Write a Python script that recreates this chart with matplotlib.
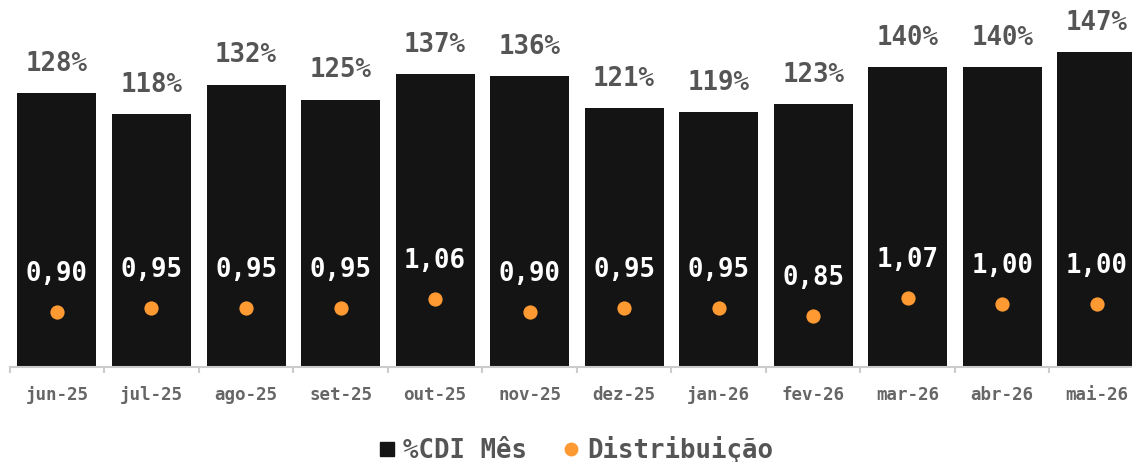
import matplotlib
matplotlib.use("Agg")
import matplotlib.pyplot as plt
from matplotlib.lines import Line2D
import numpy as np

categories = ["jun-25", "jul-25", "ago-25", "set-25", "out-25", "nov-25",
              "dez-25", "jan-26", "fev-26", "mar-26", "abr-26", "mai-26"]
cdi_pct = [128, 118, 132, 125, 137, 136, 121, 119, 123, 140, 140, 147]
distribuicao = [0.90, 0.95, 0.95, 0.95, 1.06, 0.90, 0.95, 0.95, 0.85, 1.07, 1.00, 1.00]

BAR = "#141414"
ORANGE = "#FF9A33"
GRAY_TXT = "#555555"
TICK_TXT = "#666666"
FONT = "DejaVu Sans Mono"

W, H = 1132, 462
fig = plt.figure(figsize=(W / 100, H / 100), dpi=100)
left_px, right_px = 9.7, 1144.0
base_px, top_px = 367.0, 0.0
ax = fig.add_axes([left_px / W, 1 - base_px / H, (right_px - left_px) / W, (base_px - top_px) / H])
ax.set_facecolor("none")
fig.patch.set_facecolor("white")

x = np.arange(len(categories))
bars = ax.bar(x, cdi_pct, width=0.836, color=BAR, zorder=2)
ax.set_xlim(-0.5, len(categories) - 0.5)
ax.set_ylim(0, 367 / 2.14)

for xi, v in zip(x, cdi_pct):
    ax.annotate(f"{v}%", (xi, v), xytext=(0, 21), textcoords="offset points",
                ha="center", va="center", fontsize=18.5, fontweight="bold",
                color=GRAY_TXT, family=FONT)

for s in ["top", "right", "left"]:
    ax.spines[s].set_visible(False)
ax.spines["bottom"].set_color("#cccccc")
ax.spines["bottom"].set_linewidth(1.5)
ax.set_yticks([])
ax.set_xticks(x)
ax.set_xticklabels(categories, fontsize=12.6, fontweight="bold", color=TICK_TXT, family=FONT)
ax.tick_params(axis="x", which="major", length=0, pad=13.5)
ax.set_xticks(np.arange(-0.5, len(categories), 1.0), minor=True)
ax.tick_params(axis="x", which="minor", length=4, color="#cccccc", width=1.5)

ax2 = ax.twinx()
ax2.set_ylim(0.22, 0.22 + 367 / 81.0)
ax2.scatter(x, distribuicao, s=105, color=ORANGE, zorder=3, linewidths=0)
for xi, v in zip(x, distribuicao):
    ax2.annotate(f"{v:.2f}".replace(".", ","), (xi, v), xytext=(0, 27.5), textcoords="offset points",
                 ha="center", va="center", fontsize=18.5, fontweight="bold",
                 color="white", family=FONT)
ax2.axis("off")

handles = [
    Line2D([], [], marker="s", linestyle="none", markersize=9.5, color=BAR),
    Line2D([], [], marker="o", linestyle="none", markersize=9, color=ORANGE),
]
leg = fig.legend(handles, ["%CDI Mês", "Distribuição"], loc="center",
                 bbox_to_anchor=(575 / W, 1 - 450 / H), ncol=2, frameon=False,
                 prop={"family": FONT, "weight": "bold", "size": 18.5},
                 handletextpad=0.25, columnspacing=1.3, handlelength=0.8)
for t in leg.get_texts():
    t.set_color(GRAY_TXT)

fig.savefig("out.png", dpi=100)
